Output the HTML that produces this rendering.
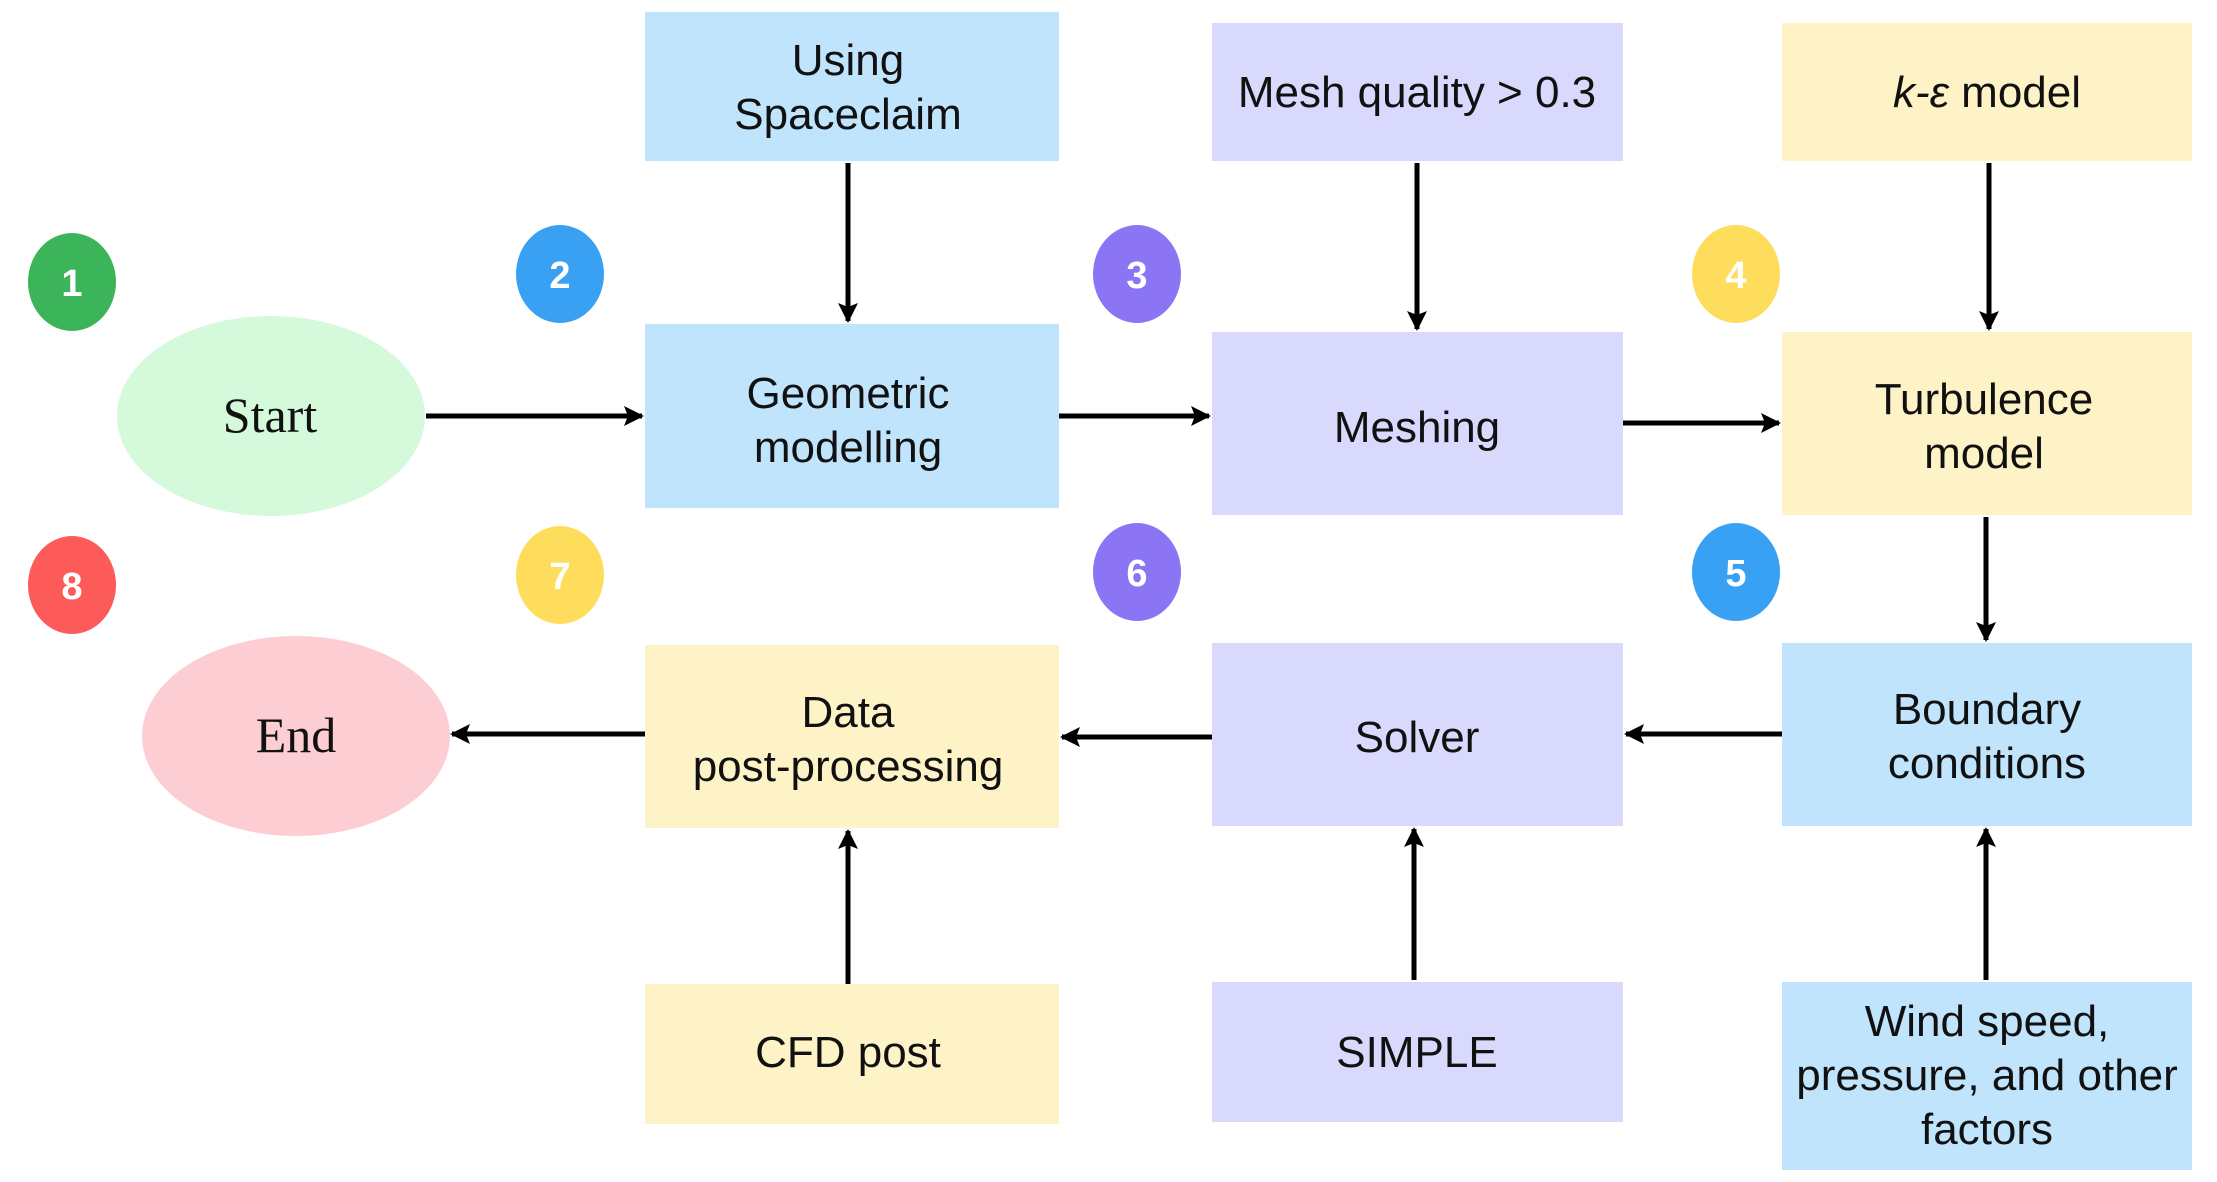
<!DOCTYPE html>
<html><head><meta charset="utf-8"><style>
html,body{margin:0;padding:0;background:#fff;}
svg{display:block}
text{font-family:"Liberation Sans",sans-serif;font-size:44px;fill:#111;text-anchor:middle;}
.b{font-weight:bold;fill:#fff;font-size:38px;}
.s{font-family:"Liberation Serif",serif;font-size:50px;}
</style></head><body>
<svg width="2217" height="1182" viewBox="0 0 2217 1182">
<defs><marker id="a" markerWidth="30" markerHeight="30" refX="22" refY="15" orient="auto" markerUnits="userSpaceOnUse"><path d="M4,5 L24,15 L4,25 L8,15 z" fill="#000"/></marker></defs>
<rect x="645" y="12" width="414" height="149" fill="#c0e4fc"/>
<rect x="1212" y="23" width="411" height="138" fill="#d8d9fc"/>
<rect x="1782" y="23" width="410" height="138" fill="#fdf3c6"/>
<rect x="645" y="324" width="414" height="184" fill="#c0e4fc"/>
<rect x="1212" y="332" width="411" height="183" fill="#d8d9fc"/>
<rect x="1782" y="332" width="410" height="183" fill="#fdf3c6"/>
<rect x="645" y="645" width="414" height="183" fill="#fdf3c6"/>
<rect x="1212" y="643" width="411" height="183" fill="#d8d9fc"/>
<rect x="1782" y="643" width="410" height="183" fill="#c0e4fc"/>
<rect x="645" y="984" width="414" height="140" fill="#fdf3c6"/>
<rect x="1212" y="982" width="411" height="140" fill="#d8d9fc"/>
<rect x="1782" y="982" width="410" height="188" fill="#c0e4fc"/>
<ellipse cx="271" cy="416" rx="154" ry="100" fill="#d4fadb"/>
<ellipse cx="296" cy="736" rx="154" ry="100" fill="#fdcdd4"/>
<ellipse cx="72" cy="282" rx="44" ry="49" fill="#3cb55a"/><text class="b" x="72" y="296">1</text>
<ellipse cx="560" cy="274" rx="44" ry="49" fill="#38a1f3"/><text class="b" x="560" y="288">2</text>
<ellipse cx="1137" cy="274" rx="44" ry="49" fill="#8b75f5"/><text class="b" x="1137" y="288">3</text>
<ellipse cx="1736" cy="274" rx="44" ry="49" fill="#fedd5d"/><text class="b" x="1736" y="288">4</text>
<ellipse cx="72" cy="585" rx="44" ry="49" fill="#fd5a5a"/><text class="b" x="72" y="599">8</text>
<ellipse cx="560" cy="575" rx="44" ry="49" fill="#fedd5d"/><text class="b" x="560" y="589">7</text>
<ellipse cx="1137" cy="572" rx="44" ry="49" fill="#8b75f5"/><text class="b" x="1137" y="586">6</text>
<ellipse cx="1736" cy="572" rx="44" ry="49" fill="#38a1f3"/><text class="b" x="1736" y="586">5</text>
<g stroke="#000" stroke-width="5" fill="none" marker-end="url(#a)">
<line x1="426" y1="416" x2="642" y2="416"/>
<line x1="1059" y1="416" x2="1209" y2="416"/>
<line x1="1623" y1="423" x2="1779" y2="423"/>
<line x1="848" y1="163" x2="848" y2="321"/>
<line x1="1417" y1="163" x2="1417" y2="329"/>
<line x1="1989" y1="163" x2="1989" y2="329"/>
<line x1="1986" y1="517" x2="1986" y2="640"/>
<line x1="1782" y1="734" x2="1626" y2="734"/>
<line x1="1212" y1="737" x2="1062" y2="737"/>
<line x1="645" y1="734" x2="452" y2="734"/>
<line x1="1414" y1="980" x2="1414" y2="829"/>
<line x1="848" y1="984" x2="848" y2="831"/>
<line x1="1986" y1="980" x2="1986" y2="829"/>
</g>
<text x="848" y="75">Using</text><text x="848" y="129">Spaceclaim</text>
<text x="1417" y="107">Mesh quality &gt; 0.3</text>
<text x="1987" y="107"><tspan font-style="italic">k-ε</tspan> model</text>
<text x="848" y="408">Geometric</text><text x="848" y="462">modelling</text>
<text x="1417" y="442">Meshing</text>
<text x="1984" y="414">Turbulence</text><text x="1984" y="468">model</text>
<text x="848" y="727">Data</text><text x="848" y="781">post-processing</text>
<text x="1417" y="752">Solver</text>
<text x="1987" y="724">Boundary</text><text x="1987" y="778">conditions</text>
<text x="848" y="1067">CFD post</text>
<text x="1417" y="1067">SIMPLE</text>
<text x="1987" y="1036">Wind speed,</text><text x="1987" y="1090">pressure, and other</text><text x="1987" y="1144">factors</text>
<text class="s" x="270" y="432">Start</text>
<text class="s" x="296" y="752">End</text>
</svg>
</body></html>
